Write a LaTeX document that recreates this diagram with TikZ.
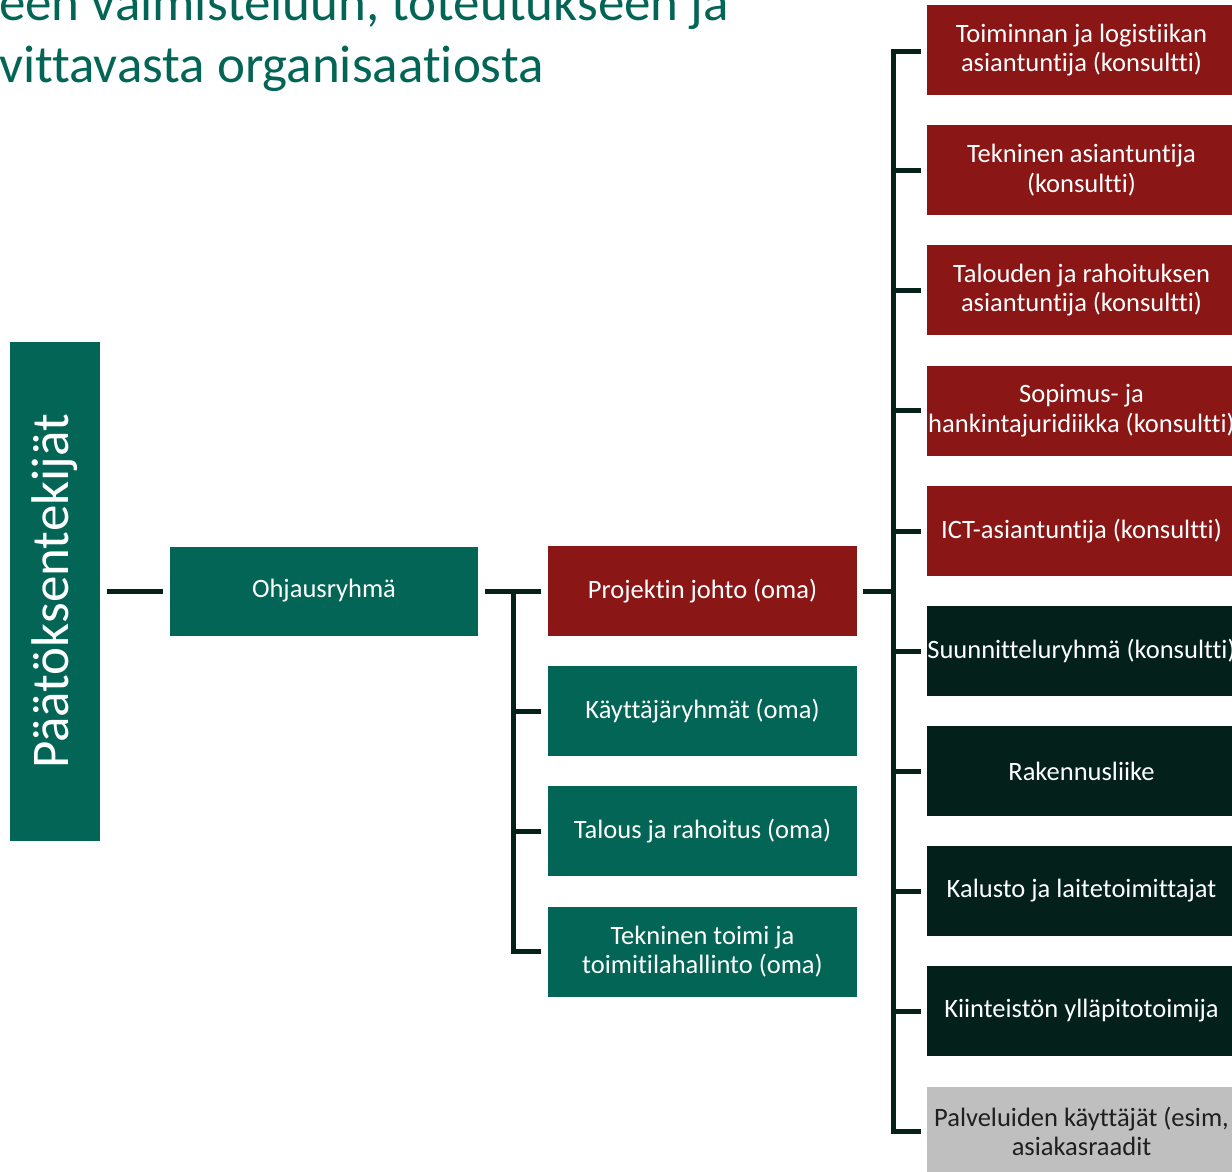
\documentclass[tikz,border=0pt]{standalone}
\usepackage{fontspec}
\setmainfont{Carlito}[Ligatures={NoCommon}]
\usetikzlibrary{calc}
\definecolor{teal1}{HTML}{036555}
\definecolor{red1}{HTML}{8B1616}
\definecolor{dark1}{HTML}{03211A}
\definecolor{grey1}{HTML}{BFBFBF}
\definecolor{line1}{HTML}{06211A}
\begin{document}
\begin{tikzpicture}[x=1pt,y=-1pt,
  box/.style={rectangle, inner sep=0pt, minimum width=309pt, minimum height=90pt,
    text=white, align=center, font=\fontsize{26.5}{29.5}\selectfont},
  tealbox/.style={box, fill=teal1},
  redbox/.style={box, fill=red1},
  darkbox/.style={box, fill=dark1},
  greybox/.style={box, fill=grey1, text=black!88},
  conn/.style={draw=line1, line width=5pt},
  titletext/.style={anchor=base west, inner sep=0pt, text=teal1, font=\fontsize{53}{62}\selectfont}]
\useasboundingbox (0,0) rectangle (1232,1172);
\clip (0,0) rectangle (1232,1172);

% title (cut by the page)
\node[titletext] (t1) at (-1,21) {een valmisteluun, toteutukseen ja};
\node[titletext] (t2) at (-1,83) {vittavasta organisaatiosta};

% left
\node[tealbox, minimum width=90pt, minimum height=499pt, font=\fontsize{53}{60}\selectfont] (paat) at (55,591.5) {\rotatebox{90}{Päätöksentekijät}};
\node[tealbox, minimum width=308pt, minimum height=89pt] (ohj) at (324,591) {Ohjausryhmä};

% middle column
\node[redbox] (proj) at (702.5,591) {Projektin johto (oma)};
\node[tealbox] (kay) at (702.5,711) {Käyttäjäryhmät (oma)};
\node[tealbox] (tal) at (702.5,831) {Talous ja rahoitus (oma)};
\node[tealbox] (tek) at (702.5,951.5) {Tekninen toimi ja\\toimitilahallinto (oma)};

% right column
\node[redbox] (r1) at (1081.5,50) {Toiminnan ja logistiikan\\asiantuntija (konsultti)};
\node[redbox] (r2) at (1081.5,170) {Tekninen asiantuntija\\(konsultti)};
\node[redbox] (r3) at (1081.5,290) {Talouden ja rahoituksen\\asiantuntija (konsultti)};
\node[redbox] (r4) at (1081.5,410.5) {Sopimus- ja\\hankintajuridiikka (konsultti)};
\node[redbox] (r5) at (1081.5,531) {ICT-asiantuntija (konsultti)};
\node[darkbox] (r6) at (1081.5,651) {Suunnitteluryhmä (konsultti)};
\node[darkbox] (r7) at (1081.5,771) {Rakennusliike};
\node[darkbox] (r8) at (1081.5,891) {Kalusto ja laitetoimittajat};
\node[darkbox] (r9) at (1081.5,1011) {Kiinteistön ylläpitotoimija};
\node[greybox] (r10) at (1081.5,1131.5) {Palveluiden käyttäjät (esim,\\asiakasraadit};

% connectors
\draw[conn] ([xshift=7pt]paat.east |- ohj.west) -- ([xshift=-7pt]ohj.west);

\coordinate (b1) at ($(ohj.east)!0.5!(proj.west)$);
\draw[conn] ([xshift=7pt]ohj.east) -- ([xshift=-7pt]proj.west);
\draw[conn] (b1) |- ([xshift=-7pt]tek.west);
\draw[conn] (b1 |- kay.west) -- ([xshift=-7pt]kay.west);
\draw[conn] (b1 |- tal.west) -- ([xshift=-7pt]tal.west);

\coordinate (b2) at ($(proj.east)+(36,0)$);
\draw[conn] ([xshift=6pt]proj.east) -- (b2);
\draw[conn] ([xshift=-6pt,yshift=-2pt]r1.west) -| (b2 |- r10.west) -- ([xshift=-6pt]r10.west);
\foreach \n in {r2,r3,r4,r5,r6,r7,r8,r9}
  \draw[conn] (b2 |- \n.west) -- ([xshift=-6pt]\n.west);
\end{tikzpicture}
\end{document}
